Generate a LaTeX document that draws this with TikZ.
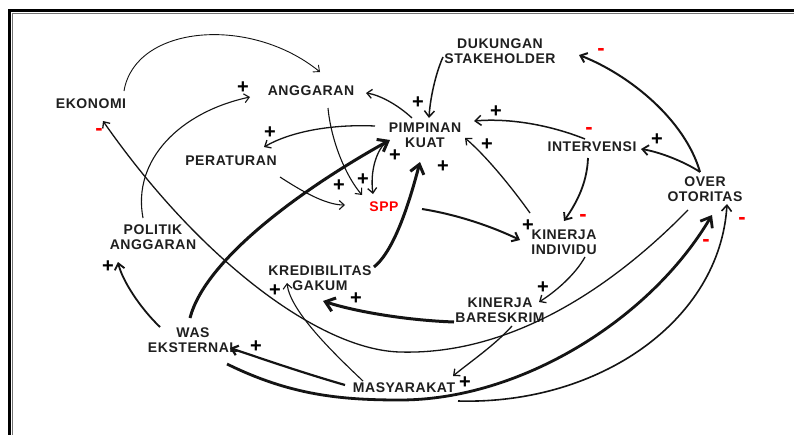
\documentclass[tikz,border=0pt]{standalone}
\usepackage{fontspec}
\usetikzlibrary{arrows.meta,calc}
\newfontfamily\labfont{Liberation Sans}[LetterSpace=4]
\newfontfamily\sgnfont{Liberation Sans}
\tikzset{
  lab/.style={font=\labfont\bfseries\fontsize{14}{14.5}\selectfont, text=black!88, align=center, inner sep=0pt},
  plussign/.style={font=\sgnfont\bfseries\fontsize{20}{20}\selectfont, text=black, inner sep=0pt},
  minussign/.style={font=\sgnfont\bfseries\fontsize{22}{22}\selectfont, text=red, inner sep=0pt},
  conthin/.style={-{Straight Barb[length=5pt,width=9pt]}, line width=1.1pt, black!92},
  conmed/.style={-{Straight Barb[length=6pt,width=10pt]}, line width=1.8pt, black!92},
  conthick/.style={-{Straight Barb[length=9pt,width=14pt]}, line width=3pt, black!92},
}
\begin{document}
\begin{tikzpicture}[x=1pt,y=-1pt]
\useasboundingbox (0,0) rectangle (794,434);
\clip (0,0) rectangle (794,434);
\fill[white] (0,0) rectangle (794,434);
% frame
\draw[line width=2.5pt, black] (9.5,10.3) rectangle (820,460);
\draw[line width=0.8pt, black!55] (12.5,13) rectangle (820,460);

% nodes
\node[lab] (eko) at (91,104) {EKONOMI};
\node[lab] (ang) at (311,91) {ANGGARAN};
\node[lab] (per) at (231,161) {PERATURAN};
\node[lab] (pim) at (425,135) {PIMPINAN\\KUAT};
\node[lab, text=red] (spp) at (384,207) {SPP};
\node[lab] (duk) at (500,51) {DUKUNGAN\\STAKEHOLDER};
\node[lab] (intv) at (592,147) {INTERVENSI};
\node[lab] (over) at (705,189) {OVER\\OTORITAS};
\node[lab] (kind) at (564,242) {KINERJA\\INDIVIDU};
\node[lab] (kbar) at (500,310) {KINERJA\\BARESKRIM};
\node[lab] (mas) at (404,388) {MASYARAKAT};
\node[lab] (kred) at (320,278) {KREDIBILITAS\\GAKUM};
\node[lab] (pol) at (153,237) {POLITIK\\ANGGARAN};
\node[lab] (was) at (193,340) {WAS\\EKSTERNAL};

% connectors
\draw[conthin, line width=0.9pt] ($(eko)+(33,-13)$) .. controls (135,25) and (250,15) .. ($(ang)+(9,-19)$);
\draw[conthin] ($(pol)+(-10,-19)$) .. controls (132,160) and (180,112) .. ($(ang)+(-61,6)$);
\draw[conthin, line width=1.3pt] ($(pim)+(-13,-17)$) .. controls (398,105) and (380,95) .. ($(ang)+(55,2)$);
\draw[conthin, line width=1.3pt] ($(pim)+(-50,-9)$) .. controls (330,124) and (290,132) .. ($(per)+(33,-14)$);
\draw[conthin] ($(ang)+(17,17)$) .. controls (331,140) and (345,175) .. ($(spp)+(-22,-12)$);
\draw[conthin] ($(per)+(49,16)$) .. controls (300,190) and (325,205) .. ($(spp)+(-39,-2)$);
\draw[conthin, line width=1.3pt] ($(pim)+(-40,8)$) .. controls (376,152) and (370,172) .. ($(spp)+(-11,-13)$);
\draw[conthick] ($(was)+(-3,-22)$) .. controls (205,260) and (300,190) .. ($(pim)+(-35,5)$);
\draw[conthick] ($(kred)+(54,-11)$) .. controls (395,250) and (410,200) .. ($(pim)+(-5,27)$);
\draw[conmed, line width=2pt] ($(spp)+(38,2)$) .. controls (460,215) and (495,228) .. ($(kind)+(-44,-2)$);
\draw[conthin, line width=1.3pt] ($(kind)+(-34,-29)$) .. controls (510,185) and (485,155) .. ($(pim)+(40,3)$);
\draw[conmed, line width=1.5pt] ($(intv)+(-7,-8)$) .. controls (550,125) and (510,118) .. ($(pim)+(49,-14)$);
\draw[conmed, line width=1.5pt] ($(duk)+(-57,6)$) .. controls (435,75) and (430,100) .. ($(pim)+(4,-17)$);
\draw[conmed] ($(intv)+(-4,11)$) .. controls (587,185) and (575,205) .. ($(kind)+(0,-21)$);
\draw[conmed, line width=2pt] ($(over)+(-5,-17)$) .. controls (685,120) and (630,75) .. ($(duk)+(79,4)$);
\draw[conmed] ($(over)+(-5,-17)$) .. controls (685,162) and (660,152) .. ($(intv)+(49,2)$);
\draw[conthin, line width=1.3pt] ($(kind)+(21,15)$) .. controls (575,275) and (555,292) .. ($(kbar)+(39,-8)$);
\draw[conthick] ($(kbar)+(-46,12)$) .. controls (400,320) and (350,310) .. ($(kred)+(3,23)$);
\draw[conthin, line width=1.3pt] ($(kbar)+(12,16)$) .. controls (495,345) and (470,362) .. ($(mas)+(49,-12)$);
\draw[conmed, line width=2.2pt] ($(mas)+(-59,-3)$) .. controls (300,372) and (260,358) .. ($(was)+(37,8)$);
\draw[conthin] ($(mas)+(-41,-7)$) .. controls (330,350) and (290,310) .. ($(kred)+(-33,5)$);
\draw[conmed] ($(was)+(-33,-13)$) .. controls (140,308) and (122,280) .. ($(pol)+(-35,25)$);
\draw[conthin, line width=1.3pt] ($(over)+(-17,21)$) .. controls (600,300) and (500,355) .. (400,352) .. controls (320,350) and (200,260) .. ($(eko)+(12,17)$);
\draw[conthick, line width=2.8pt] ($(was)+(34,24)$) .. controls (290,395) and (340,400) .. (400,400) .. controls (520,400) and (650,320) .. ($(over)+(7,26)$);
\draw[conmed, line width=1.6pt] ($(mas)+(54,13)$) .. controls (600,405) and (720,320) .. ($(over)+(22,15)$);

% polarity signs
\foreach \p in {(243,88),(270,133),(418,103),(339,186),(363,180),(395,156),(443,167),(496,112),(487,145),(657,140),(528,226),(543,288),(356,299),(275,291),(465,383),(256,347),(108,267)}
  \node[plussign] at \p {+};
\foreach \p in {(99,132),(601,52),(589,131),(583,218),(706,243),(742,221)}
  \node[minussign] at \p {-};
\end{tikzpicture}
\end{document}
